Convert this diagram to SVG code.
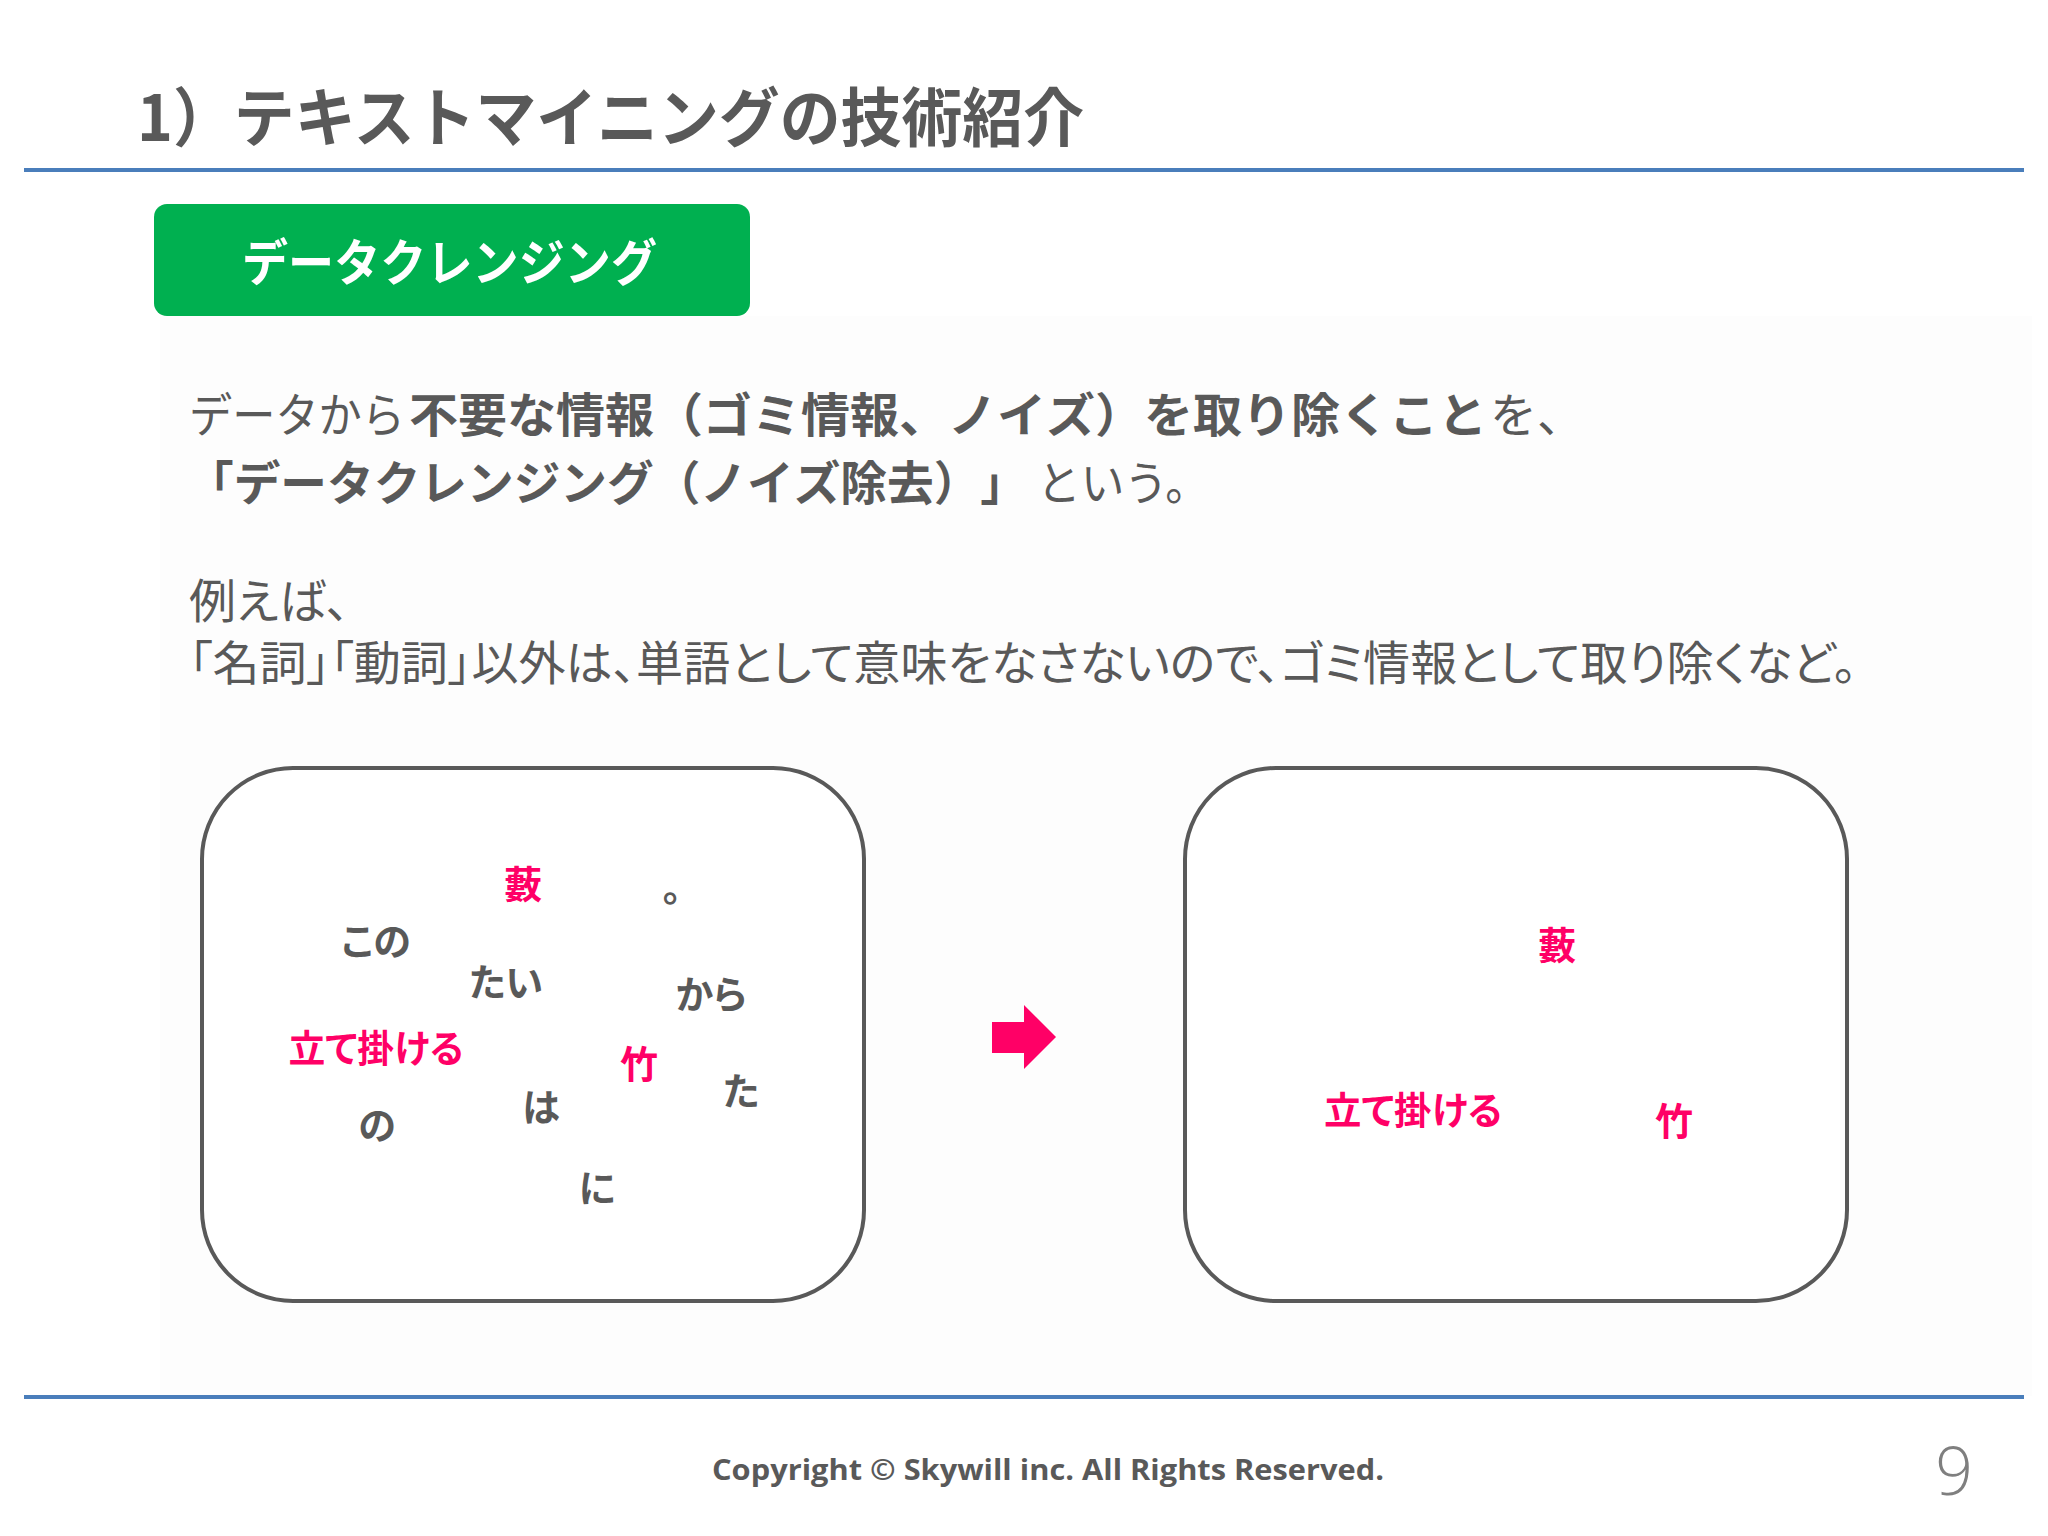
<svg xmlns="http://www.w3.org/2000/svg" width="2048" height="1536" viewBox="0 0 2048 1536">
<style>
.jp{font-family:"Noto Sans CJK JP","Noto Sans CJK SC",sans-serif;fill:#595959}
.b{font-weight:700}
.r{font-weight:400}
.nk{font-kerning:none;text-spacing-trim:space-all;font-feature-settings:"kern" 0,"chws" 0,"halt" 0}
.p{font-feature-settings:"palt"}
.w{font-family:"Noto Sans CJK JP",sans-serif;font-weight:700;font-size:38px;text-anchor:middle;font-feature-settings:"palt"}
.g{fill:#595959}
.k{fill:#ff0066}
.box{fill:#ffffff;stroke:#595959;stroke-width:4}
.rule{stroke:#4a7ebb;stroke-width:4}
</style>
<rect x="0" y="0" width="2048" height="1536" fill="#ffffff"/>
<rect x="160" y="316" width="1872" height="1080" fill="#fdfdfd"/>
<g id="header">
<text class="jp b" x="137" y="141" font-size="64" textLength="947" lengthAdjust="spacingAndGlyphs">1）テキストマイニングの技術紹介</text>
<line class="rule" x1="24" y1="170" x2="2024" y2="170"/>
</g>
<g id="tag">
<rect x="154" y="204" width="596" height="112" rx="13" fill="#00b050"/>
<text class="jp b" x="242" y="281" font-size="50" style="fill:#ffffff" textLength="415" lengthAdjust="spacingAndGlyphs">データクレンジング</text>
</g>
<g id="body">
<text class="jp r" x="189" y="432" font-size="47" textLength="216" lengthAdjust="spacingAndGlyphs">データから</text>
<text class="jp b nk" x="409" y="432" font-size="47" textLength="1078" lengthAdjust="spacingAndGlyphs">不要な情報（ゴミ情報、ノイズ）を取り除くこと</text>
<text class="jp r" x="1490" y="432" font-size="47">を、</text>
<text class="jp b nk" x="187" y="500" font-size="47" textLength="840" lengthAdjust="spacingAndGlyphs">「データクレンジング（ノイズ除去）」</text>
<text class="jp r" x="1037" y="500" font-size="47" textLength="172" lengthAdjust="spacingAndGlyphs">という。</text>
<text class="jp p r" x="189" y="618" font-size="47">例えば、</text>
<text class="jp p r" x="189" y="680" font-size="47" textLength="1668" lengthAdjust="spacingAndGlyphs">「名詞」「動詞」以外は、単語として意味をなさないので、ゴミ情報として取り除くなど。</text>
</g>
<g id="before">
<rect class="box" x="202" y="768" width="662" height="533" rx="91"/>
<text class="w k" x="523" y="898">藪</text>
<text class="w g" x="672" y="901">。</text>
<text class="w g" x="376" y="955">この</text>
<text class="w g" x="506" y="996">たい</text>
<text class="w g" x="711" y="1008">から</text>
<text class="w k" x="376" y="1062" textLength="175" lengthAdjust="spacingAndGlyphs">立て掛ける</text>
<text class="w k" x="639" y="1078">竹</text>
<text class="w g" x="741" y="1105">た</text>
<text class="w g" x="541" y="1121">は</text>
<text class="w g" x="377" y="1139">の</text>
<text class="w g" x="597" y="1202">に</text>
</g>
<g id="connectors">
<polygon points="992,1022 1024,1022 1024,1005 1056,1037 1024,1069 1024,1053 992,1053" fill="#ff0066"/>
</g>
<g id="after">
<rect class="box" x="1185" y="768" width="662" height="533" rx="91"/>
<text class="w k" x="1557" y="959">藪</text>
<text class="w k" x="1413" y="1124" textLength="178" lengthAdjust="spacingAndGlyphs">立て掛ける</text>
<text class="w k" x="1674" y="1135">竹</text>
</g>
<g id="footer">
<line class="rule" x1="24" y1="1397" x2="2024" y2="1397"/>
<text x="1048" y="1480" font-family="'Open Sans','DejaVu Sans',sans-serif" font-weight="700" font-size="29" fill="#595959" text-anchor="middle" textLength="672" lengthAdjust="spacingAndGlyphs">Copyright © Skywill inc. All Rights Reserved.</text>
<text x="1954" y="1495" font-family="'Open Sans','DejaVu Sans',sans-serif" font-weight="300" font-size="66" fill="#7f7f7f" text-anchor="middle">9</text>
</g>
</svg>
